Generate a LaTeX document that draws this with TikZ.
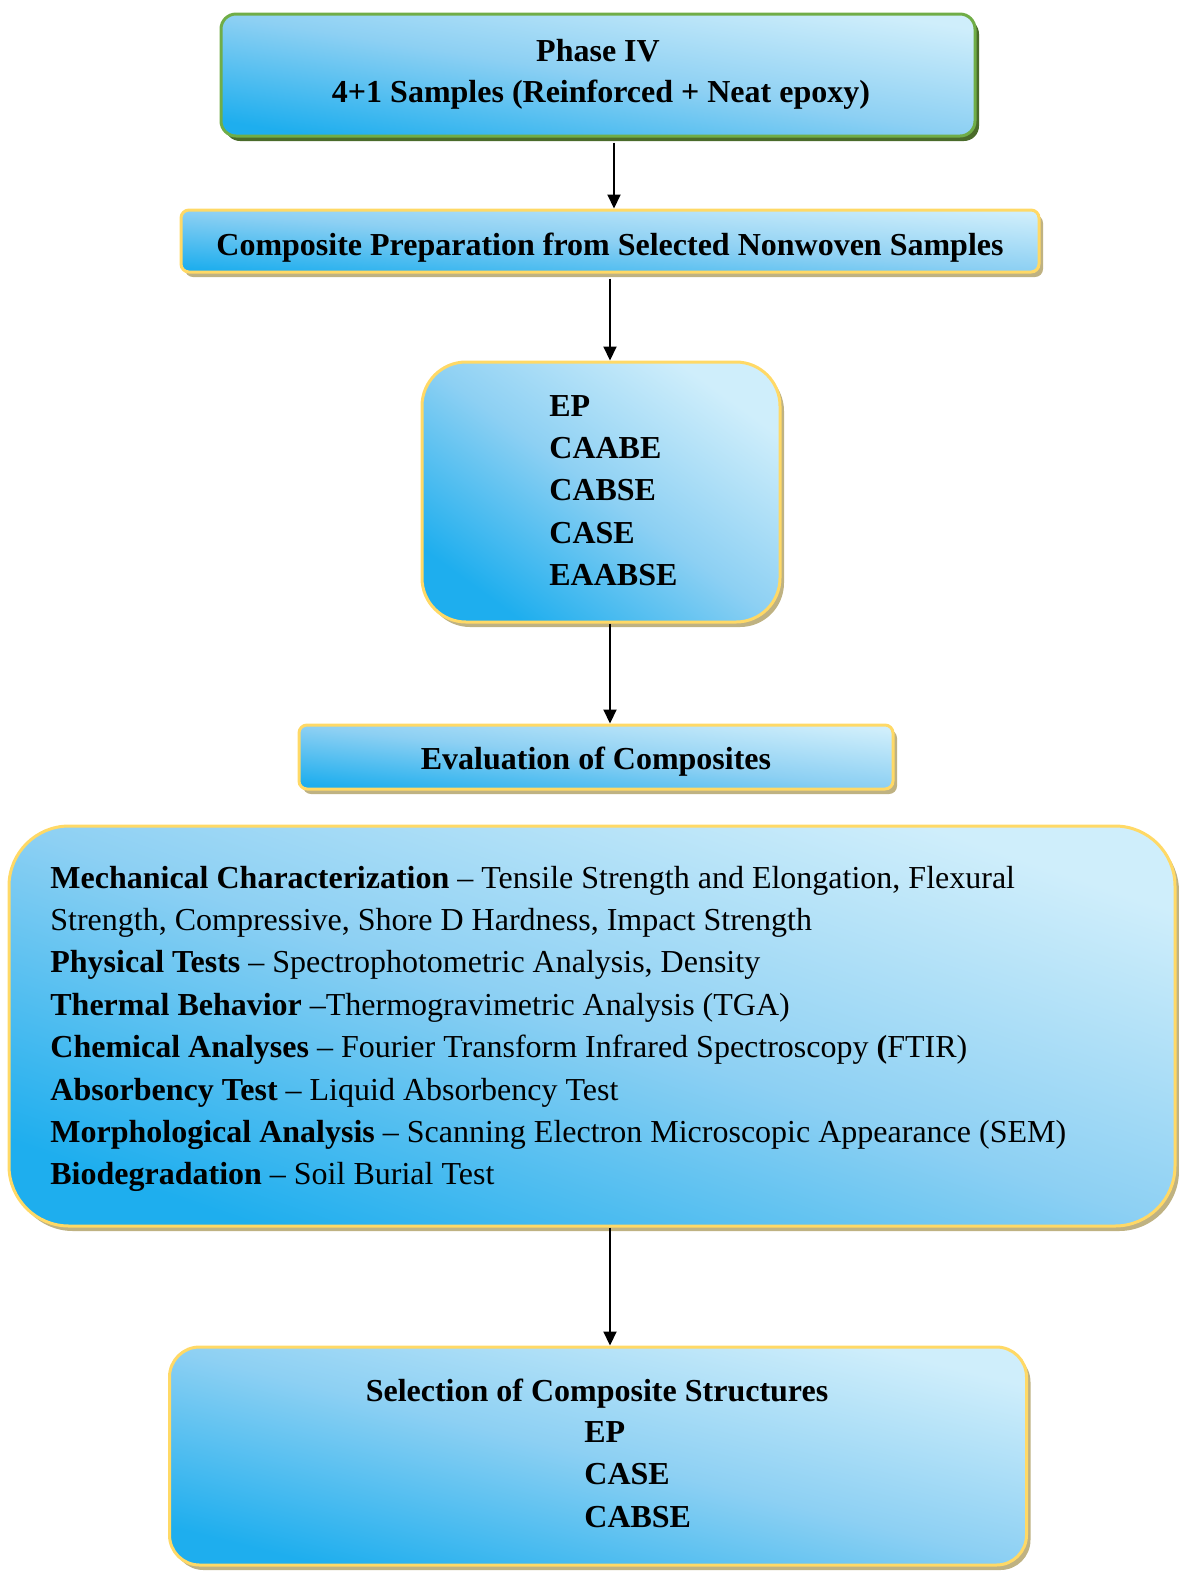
\documentclass[tikz,border=0pt]{standalone}
\usepackage{fontspec}
\setmainfont{Liberation Serif}
\usetikzlibrary{shadows,arrows.meta}
\definecolor{deepblue}{HTML}{1EAEEE}
\definecolor{midblue}{HTML}{8DD0F3}
\definecolor{lightblue}{HTML}{CFEEFB}
\definecolor{greenborder}{HTML}{70AD47}
\definecolor{greenshadow}{HTML}{4A6B2A}
\definecolor{yellowborder}{HTML}{FFD966}
\definecolor{tanshadow}{HTML}{BFB282}
\begin{document}
\begin{tikzpicture}[x=0.5pt,y=-0.5pt,
  boxbase/.style={rectangle, inner sep=0pt, line width=1.5pt,
    top color=lightblue, bottom color=deepblue, middle color=midblue, shading angle=#1},
  greenbox/.style={boxbase=#1, draw=greenborder,
    general shadow={fill=greenshadow, shadow xshift=2pt, shadow yshift=-2.5pt}},
  yellowbox/.style={boxbase=#1, draw=yellowborder,
    general shadow={fill=tanshadow, shadow xshift=2pt, shadow yshift=-2.5pt}},
  txt/.style={inner sep=0pt, font=\fontsize{16}{20}\selectfont},
  ltxt/.style={txt, anchor=base west},
  ctxt/.style={txt, anchor=base},
  arr/.style={line width=1pt, -{Triangle[length=7pt,width=6.5pt]}}
]
\useasboundingbox (0,0) rectangle (1179,1571);

% boxes
\node[greenbox=-9, rounded corners=7.5pt, minimum width=377pt, minimum height=61pt] (b1) at (598,75) {};
\node[yellowbox=-4, rounded corners=4pt, minimum width=429pt, minimum height=31pt] (b2) at (610,241) {};
\node[yellowbox=-36, rounded corners=22pt, minimum width=179pt, minimum height=130pt] (b3) at (601,492) {};
\node[yellowbox=-6, rounded corners=4pt, minimum width=297pt, minimum height=32pt] (b4) at (596,757) {};
\node[yellowbox=-19, rounded corners=30pt, minimum width=583pt, minimum height=200pt] (b5) at (592,1026) {};
\node[yellowbox=-14, rounded corners=15pt, minimum width=428.5pt, minimum height=109pt] (b6) at (598,1456) {};

% texts
\node[ctxt] (t1a) at (598,61) {\textbf{Phase IV}};
\node[ctxt] (t1b) at (601,102) {\textbf{4+1 Samples (Reinforced + Neat epoxy)}};
\node[ctxt] (t2) at (610,255) {\textbf{Composite Preparation from Selected Nonwoven Samples}};

\node[ltxt] (t3a) at (549,416) {\textbf{EP}};
\node[ltxt] (t3b) at (549,458) {\textbf{CAABE}};
\node[ltxt] (t3c) at (549,500) {\textbf{CABSE}};
\node[ltxt] (t3d) at (549,543) {\textbf{CASE}};
\node[ltxt] (t3e) at (549,585) {\textbf{EAABSE}};

\node[ctxt] (t4) at (596,769) {\textbf{Evaluation of Composites}};

\node[ltxt] (t5a) at (50,888) {\textbf{Mechanical Characterization} – Tensile Strength and Elongation, Flexural};
\node[ltxt] (t5b) at (50,930) {Strength, Compressive, Shore D Hardness, Impact Strength};
\node[ltxt] (t5c) at (50,972) {\textbf{Physical Tests} – Spectrophotometric Analysis, Density};
\node[ltxt] (t5d) at (50,1015) {\textbf{Thermal Behavior} –Thermogravimetric Analysis (TGA)};
\node[ltxt] (t5e) at (50,1057) {\textbf{Chemical Analyses} – Fourier Transform Infrared Spectroscopy \textbf{(}FTIR)};
\node[ltxt] (t5f) at (50,1100) {\textbf{Absorbency Test} – Liquid Absorbency Test};
\node[ltxt] (t5g) at (50,1142) {\textbf{Morphological Analysis} – Scanning Electron Microscopic Appearance (SEM)};
\node[ltxt] (t5h) at (50,1184) {\textbf{Biodegradation} – Soil Burial Test};

\node[ctxt] (t6a) at (597,1401) {\textbf{Selection of Composite Structures}};
\node[ltxt] (t6b) at (584,1442) {\textbf{EP}};
\node[ltxt] (t6c) at (584,1484) {\textbf{CASE}};
\node[ltxt] (t6d) at (584,1527) {\textbf{CABSE}};

% connectors
\draw[arr] ([xshift=8pt,yshift=-2.5pt]b1.south) -- ([xshift=2pt]b2.north);
\draw[arr] ([yshift=-2.5pt]b2.south) -- (b2.south |- b3.north);
\draw[arr] ([xshift=4.5pt]b3.south) -- ([xshift=4.5pt]b3.south |- b4.north);
\draw[arr] ([xshift=9pt]b5.south) -- ([xshift=9pt]b5.south |- b6.north);
\end{tikzpicture}
\end{document}
